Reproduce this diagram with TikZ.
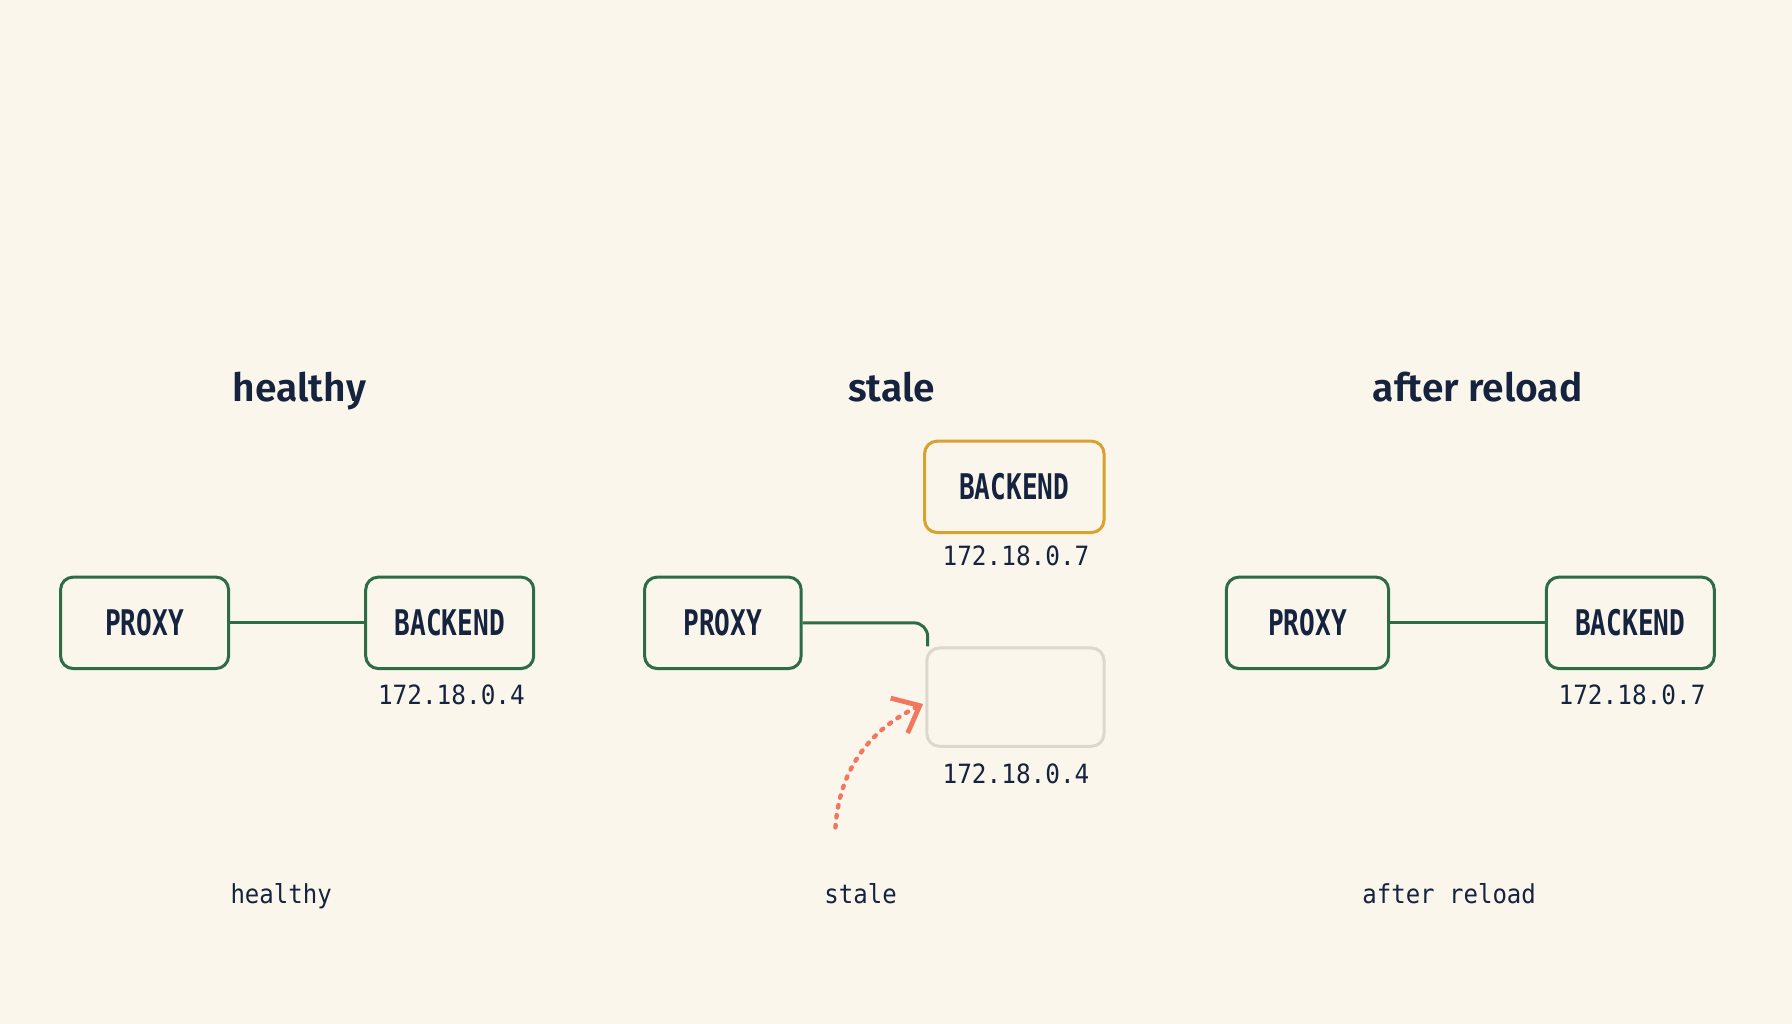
\documentclass[tikz,border=0pt]{standalone}
\usepackage{fontspec}
\usepackage{xcolor}
\usetikzlibrary{arrows.meta, positioning}
\setmainfont{Fira Sans}[BoldFont={Fira Sans SemiBold}]
\newfontfamily\boxfont{DejaVu Sans Mono}[FakeStretch=0.74]
\newfontfamily\ipfont{DejaVu Sans Mono}[FakeStretch=0.92]
\definecolor{paper}{HTML}{FAF6EC}
\definecolor{ink}{HTML}{15233F}
\definecolor{linkgreen}{HTML}{2E6B47}
\definecolor{newgold}{HTML}{D9A22E}
\definecolor{ghostgray}{HTML}{DDD8CD}
\definecolor{coral}{HTML}{F2775E}
\tikzstyle{host} = [rectangle, rounded corners=1.1mm, draw=linkgreen, line width=.75pt, minimum height=0.8cm, inner sep=0pt, align=center, text=ink, font=\boxfont\fontsize{8.8}{10}\selectfont\bfseries]
\tikzstyle{addr} = [text=ink, inner sep=0pt, font=\ipfont\fontsize{6.6}{8}\selectfont]
\tikzstyle{caption} = [text=ink, inner sep=0pt, anchor=base, font=\ipfont\fontsize{6.5}{8}\selectfont]
\tikzstyle{heading} = [text=ink, inner sep=0pt, anchor=base, font=\fontsize{9.7}{11}\selectfont\bfseries]
\tikzstyle{link} = [draw=linkgreen, line width=.75pt]

\begin{document}
\begin{tikzpicture}
\fill[paper] (0,0) rectangle (15.68,8.96);
\useasboundingbox (0,0) rectangle (15.68,8.96);
% headings
\node[heading] (thealthy) at (2.62,5.45) {healthy};
\node[heading] (tstale) at (7.80,5.45) {stale};
\node[heading] (treload) at (12.93,5.45) {after reload};

% healthy
\node[host, minimum width=1.47cm] (hproxy) at (1.265,3.51) {PROXY};
\node[host, minimum width=1.47cm] (hbackend) at (3.935,3.51) {BACKEND};
\node[addr] (hip) at (3.95,2.88) {172.18.0.4};
\draw[link] (hproxy) -- (hbackend);

% stale
\node[host, minimum width=1.37cm] (sproxy) at (6.325,3.51) {PROXY};
\node[host, draw=newgold, minimum width=1.57cm] (snew) at (8.875,4.70) {BACKEND};
\node[addr] (snewip) at (8.89,4.10) {172.18.0.7};
\node[host, draw=ghostgray, minimum width=1.55cm, minimum height=0.86cm] (sghost) at (8.885,2.86) {};
\node[addr] (sghostip) at (8.89,2.19) {172.18.0.4};
\draw[link, rounded corners=1.2mm] (sproxy.east) -| ([xshift=0.2mm]sghost.north west);
\coordinate (sfrom) at (7.31,1.72);
\draw[coral, line width=1.1pt, line cap=round, dash pattern=on 0.6pt off 1.9pt, -{Straight Barb[length=2mm, width=3.4mm, line width=1.2pt]}]
    (sfrom) to[out=86, in=206] ([xshift=-0.2mm, yshift=-0.6mm]sghost.west);

% after reload
\node[host, minimum width=1.42cm] (rproxy) at (11.44,3.51) {PROXY};
\node[host, minimum width=1.47cm] (rbackend) at (14.265,3.51) {BACKEND};
\node[addr] (rip) at (14.28,2.88) {172.18.0.7};
\draw[link] (rproxy) -- (rbackend);

% captions
\node[caption] (chealthy) at (2.46,1.05) {healthy};
\node[caption] (cstale) at (7.53,1.05) {stale};
\node[caption] (creload) at (12.68,1.05) {after reload};
\end{tikzpicture}
\end{document}
